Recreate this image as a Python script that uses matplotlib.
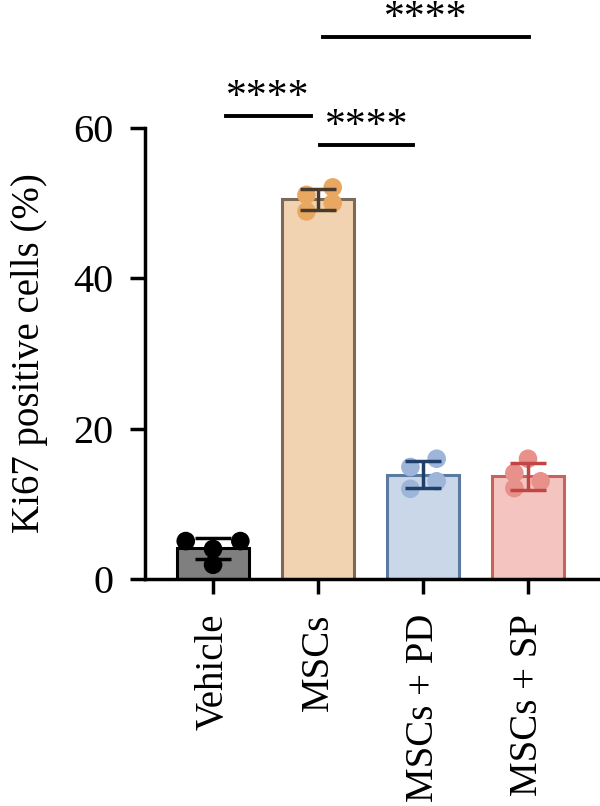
import matplotlib
matplotlib.use("Agg")
import matplotlib.pyplot as plt
import numpy as np

plt.rcParams['font.family'] = ['Liberation Serif', 'DejaVu Serif']

# data
groups = ['Vehicle', 'MSCs', 'MSCs + PD', 'MSCs + SP']
vehicle = [5.05, 5.05, 4.0, 1.9]
mscs = [51.1, 52.1, 50.0, 48.9]
mscs_pd = [14.9, 16.0, 13.0, 12.0]
mscs_sp = [16.0, 14.1, 13.0, 12.1]
points = [vehicle, mscs, mscs_pd, mscs_sp]
means = [4.1, 50.5, 13.9, 13.7]
sds = [1.4, 1.35, 1.75, 1.8]

# significance brackets: (x start, x end, height)
brackets = [(0.12, 0.93, 61.6), (1.02, 1.9, 57.7), (1.05, 3.01, 72.1)]
stars = ['****', '****', '****']

# styling
fills = ['#7f7f7f', '#f2d3b1', '#c9d7e9', '#f4c5c0']
edges = ['#000000', '#7a6a57', '#5a7aa0', '#c8625d']
dots = ['#000000', '#e8a862', '#9db5d8', '#e8918a']
errc = ['#000000', '#4a3a2c', '#1f3f6a', '#c04545']
jitter = [[-0.26, 0.26, 0.0, 0.0],
          [-0.11, 0.14, 0.14, -0.11],
          [-0.12, 0.13, 0.13, -0.12],
          [0.0, -0.13, 0.12, -0.13]]

fig = plt.figure(figsize=(6, 8.06), dpi=100)
ax = fig.add_axes([0.2417, 0.2816, 0.7583, 0.5596])

x = np.arange(len(groups))
ax.bar(x, means, width=0.68, color=fills, edgecolor=edges, linewidth=2.2, zorder=1)
for i in range(len(groups)):
    ax.scatter(x[i] + np.array(jitter[i]), points[i], s=180, color=dots[i],
               edgecolor='none', zorder=3, clip_on=False)
    ax.errorbar(x[i], means[i], yerr=sds[i], fmt='none', ecolor=errc[i],
                elinewidth=2.5, capsize=13, capthick=2.5, zorder=4)

for (x0, x1, h), s in zip(brackets, stars):
    ax.plot([x0, x1], [h, h], color='black', lw=2.8, clip_on=False)
    ax.annotate(s, ((x0 + x1) / 2, h), xytext=(0, 6), textcoords='offset points',
                ha='center', va='baseline', fontsize=30, annotation_clip=False)

ax.set_xlim(-0.648, 3.686)
ax.set_ylim(0, 60)
ax.set_yticks([0, 20, 40, 60])
ax.set_xticks(x)
ax.set_xticklabels(groups, rotation=90)
ax.set_ylabel('Ki67 positive cells (%)', fontsize=28, labelpad=18)

ax.spines['top'].set_visible(False)
ax.spines['right'].set_visible(False)
for sp in ['left', 'bottom']:
    ax.spines[sp].set_linewidth(2.5)
ax.tick_params(axis='both', length=11, width=2.5, labelsize=29)
ax.tick_params(axis='x', pad=14, labelsize=28)
ax.tick_params(axis='y', pad=12)

fig.savefig('out.png', dpi=100)
